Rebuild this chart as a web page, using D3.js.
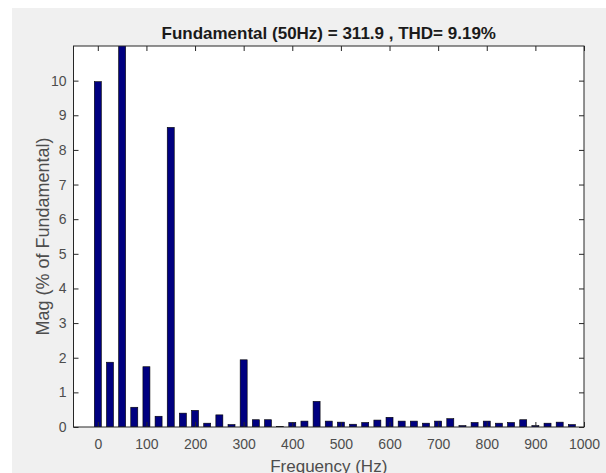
<!DOCTYPE html>
<html><head><meta charset="utf-8">
<script src="https://cdn.jsdelivr.net/npm/d3@7"></script>
<style>body{margin:0;background:#fff}svg{display:block}text{font-family:"Liberation Sans",Arial,sans-serif}</style>
</head><body><svg id="c" width="606" height="473"></svg>
<script>
const freqs = [0,25,50,75,100,125,150,175,200,225,250,275,300,325,350,375,400,425,450,475,500,525,550,575,600,625,650,675,700,725,750,775,800,825,850,875,900,925,950,975];
const mags  = [9.97,1.87,100,0.57,1.74,0.31,8.65,0.40,0.48,0.11,0.35,0.07,1.94,0.21,0.21,0.01,0.13,0.17,0.74,0.17,0.14,0.08,0.13,0.20,0.28,0.17,0.17,0.11,0.17,0.24,0.04,0.13,0.17,0.11,0.13,0.21,0.04,0.11,0.14,0.07];
const xTicks = [0,100,200,300,400,500,600,700,800,900,1000];
const yTicks = [0,1,2,3,4,5,6,7,8,9,10];
const titleText = "Fundamental (50Hz) = 311.9 , THD= 9.19%";
const xLabel = "Frequency (Hz)";
const yLabel = "Mag (% of Fundamental)";

const svg = d3.select("#c");
svg.append("rect").attr("x",12).attr("y",8).attr("width",594).attr("height",465).attr("fill","#f0f0f0");
const L=73.5,R=584,T=46,B=427;
const x = d3.scaleLinear().domain([-50,1000]).range([L,R]);
const y = d3.scaleLinear().domain([0,11]).range([B,T]);
svg.append("rect").attr("x",L).attr("y",T).attr("width",R-L).attr("height",B-T).attr("fill","#fff");
svg.append("clipPath").attr("id","clip").append("rect").attr("x",L).attr("y",T).attr("width",R-L).attr("height",B-T);
const bw = x(14.4)-x(0);
svg.append("g").attr("clip-path","url(#clip)").selectAll("rect").data(freqs).join("rect")
  .attr("x",(d)=>x(d)-bw/2).attr("width",bw)
  .attr("y",(d,i)=>y(mags[i])).attr("height",(d,i)=>B-y(mags[i]))
  .attr("fill","#000080").attr("stroke","#000").attr("stroke-width",0.6);
const axCol="#262626", txtCol="#4d4d4d";
function style(g){g.select(".domain").remove();g.selectAll("line").attr("stroke",axCol);g.selectAll("text").attr("fill",txtCol).attr("font-size",14);}
svg.append("g").attr("transform",`translate(0,${B})`).call(d3.axisBottom(x).tickValues(xTicks).tickSize(-5).tickPadding(12).tickFormat(d3.format("d"))).call(style);
svg.append("g").attr("transform",`translate(0,${T})`).call(d3.axisTop(x).tickValues(xTicks).tickSize(-5).tickFormat("")).call(style);
svg.append("g").attr("transform",`translate(${L},0)`).call(d3.axisLeft(y).tickValues(yTicks).tickSize(-5).tickPadding(7).tickFormat(d3.format("d"))).call(style);
svg.append("g").attr("transform",`translate(${R},0)`).call(d3.axisRight(y).tickValues(yTicks).tickSize(-5).tickFormat("")).call(style);
svg.append("rect").attr("x",L).attr("y",T).attr("width",R-L).attr("height",B-T).attr("fill","none").attr("stroke",axCol).attr("stroke-width",1);
svg.append("text").attr("x",(L+R)/2).attr("y",39).attr("text-anchor","middle").attr("font-size",17).attr("font-weight","bold").attr("fill","#1a1a1a").text(titleText);
svg.append("text").attr("x",(L+R)/2).attr("y",472).attr("text-anchor","middle").attr("font-size",17).attr("fill",txtCol).text(xLabel);
svg.append("text").attr("transform",`translate(49,${(T+B)/2}) rotate(-90)`).attr("text-anchor","middle").attr("font-size",18).attr("fill",txtCol).text(yLabel);
</script></body></html>
